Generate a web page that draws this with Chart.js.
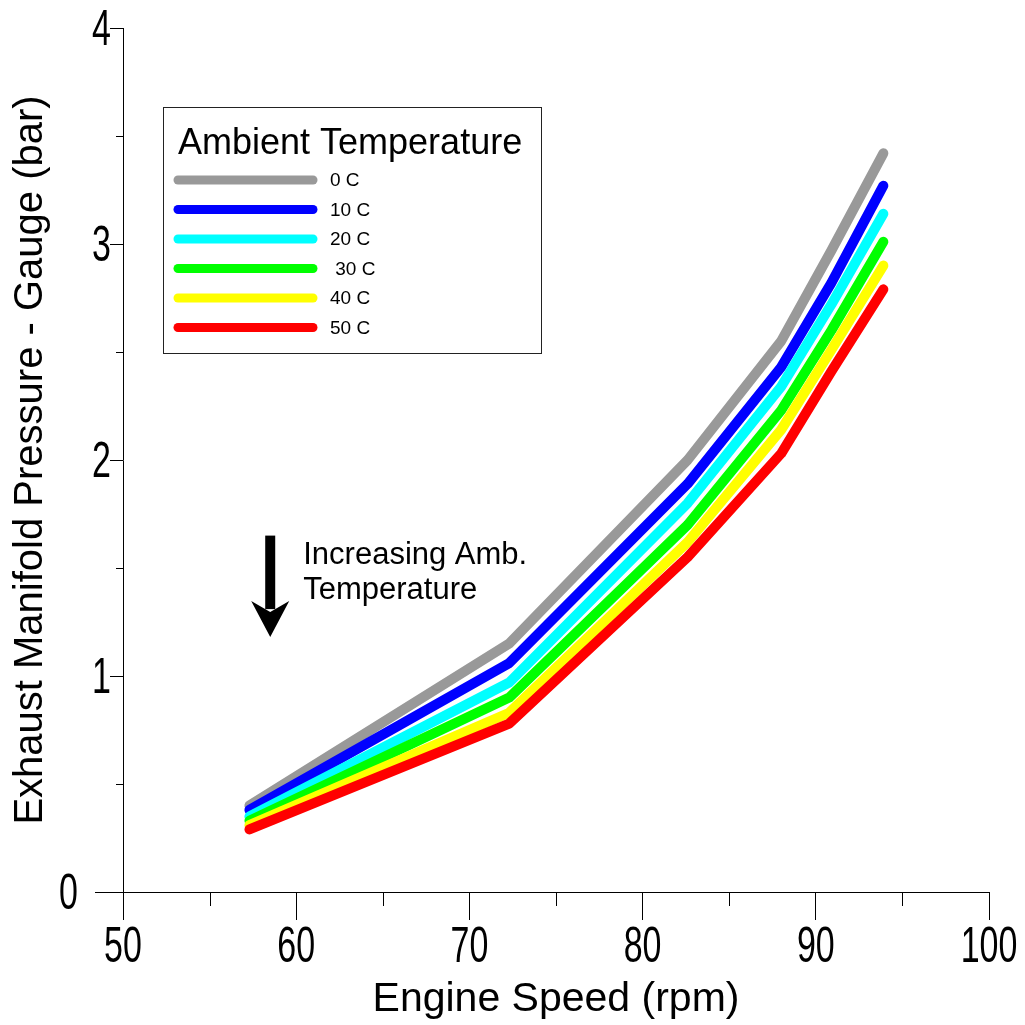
<!DOCTYPE html>
<html>
<head>
<meta charset="utf-8">
<script src="https://cdn.jsdelivr.net/npm/chart.js@4.4.1/dist/chart.umd.min.js"></script>
<style>
  html, body { margin: 0; padding: 0; background: #fff; }
  #wrap { width: 1025px; height: 1025px; }
</style>
</head>
<body>
<div id="wrap"><canvas id="pressureChart" width="1025" height="1025"></canvas></div>
<script>
// engine speed (rpm) at each measured point
const engineSpeed = [57.3, 72.3, 82.6, 88.0, 90.9, 93.9];

// exhaust manifold gauge pressure (bar), one series per ambient temperature
const temp0 = [0.40, 1.15, 2.00, 2.55, 2.97, 3.42];
const temp10 = [0.38, 1.06, 1.89, 2.43, 2.82, 3.27];
const temp20 = [0.35, 0.97, 1.80, 2.34, 2.72, 3.14];
const temp30 = [0.33, 0.90, 1.70, 2.23, 2.60, 3.01];
const temp40 = [0.31, 0.83, 1.62, 2.14, 2.51, 2.90];
const temp50 = [0.29, 0.78, 1.55, 2.03, 2.41, 2.79];

const seriesLabels = ['0 C', '10 C', '20 C', ' 30 C', '40 C', '50 C'];
const seriesValues = [temp0, temp10, temp20, temp30, temp40, temp50];
const seriesColors = ['#999999', '#0000ff', '#00ffff', '#00ff00', '#ffff00', '#ff0000'];

const xTickLabels = ['50', '60', '70', '80', '90', '100'];
const yTickLabels = ['0', '1', '2', '3', '4'];
const xTicksMinor = [55, 65, 75, 85, 95];
const yTicksMinor = [0.5, 1.5, 2.5, 3.5];

const FONT = '"Liberation Sans", Arial, sans-serif';

const datasets = seriesValues.map((vals, i) => ({
    label: seriesLabels[i],
    data: vals.map((v, j) => ({ x: engineSpeed[j], y: v })),
    borderColor: seriesColors[i],
    backgroundColor: seriesColors[i],
    borderWidth: 10,
    borderCapStyle: 'round',
    borderJoinStyle: 'round',
    pointRadius: 0,
    tension: 0,
    fill: false,
    order: seriesValues.length - i
}));

// tall tick numbers, minor ticks, legend box and the arrow note
const extrasPlugin = {
    id: 'extras',
    afterDraw(chart) {
        const ctx = chart.ctx;
        const xs = chart.scales.x;
        const ys = chart.scales.y;
        const area = chart.chartArea;
        ctx.save();
        ctx.strokeStyle = '#000';
        ctx.lineWidth = 1;

        ctx.beginPath();
        xTicksMinor.forEach(v => {
            const px = Math.round(xs.getPixelForValue(v)) + 0.5;
            ctx.moveTo(px, area.bottom);
            ctx.lineTo(px, area.bottom + 14);
        });
        yTicksMinor.forEach(v => {
            const py = Math.round(ys.getPixelForValue(v)) + 0.5;
            ctx.moveTo(area.left - 7, py);
            ctx.lineTo(area.left, py);
        });
        // x axis line runs a bit past the y axis
        const y0 = Math.round(ys.getPixelForValue(0)) + 0.5;
        ctx.moveTo(area.left - 28, y0);
        ctx.lineTo(area.left, y0);
        ctx.stroke();

        // tick numbers, stretched vertically
        ctx.fillStyle = '#000';
        ctx.font = '34px ' + FONT;
        ctx.textBaseline = 'alphabetic';
        ctx.textAlign = 'center';
        xTickLabels.forEach(t => {
            ctx.save();
            ctx.translate(xs.getPixelForValue(Number(t)), area.bottom + 70);
            ctx.scale(1, 1.45);
            ctx.fillText(t, 0, 0);
            ctx.restore();
        });
        ctx.textAlign = 'right';
        yTickLabels.forEach(t => {
            const v = Number(t);
            ctx.save();
            ctx.translate(area.left - (v === 0 ? 45 : 12), ys.getPixelForValue(v) + 17);
            ctx.scale(1, 1.45);
            ctx.fillText(t, 0, 0);
            ctx.restore();
        });

        // legend
        const bx = area.left + 40, by = area.top + 79, bw = 378, bh = 246;
        ctx.fillStyle = '#fff';
        ctx.fillRect(bx, by, bw, bh);
        ctx.strokeStyle = '#222';
        ctx.strokeRect(bx + 0.5, by + 0.5, bw, bh);
        ctx.fillStyle = '#000';
        ctx.font = '36px ' + FONT;
        ctx.textAlign = 'left';
        ctx.textBaseline = 'middle';
        ctx.fillText('Ambient Temperature', bx + 15, by + 37);
        ctx.font = '19px ' + FONT;
        chart.data.datasets.forEach((ds, i) => {
            const ry = by + 73 + i * 29.5;
            ctx.strokeStyle = ds.borderColor;
            ctx.lineWidth = 9;
            ctx.lineCap = 'round';
            ctx.beginPath();
            ctx.moveTo(bx + 15, ry);
            ctx.lineTo(bx + 150, ry);
            ctx.stroke();
            ctx.fillText(ds.label, bx + 167, ry + 1);
        });

        // arrow: increasing ambient temperature
        const ax = xs.getPixelForValue(58.5);
        const aTop = ys.getPixelForValue(1.65);
        const aTip = ys.getPixelForValue(1.18);
        ctx.fillStyle = '#000';
        ctx.fillRect(ax - 5, aTop, 10, aTip - aTop - 28);
        ctx.beginPath();
        ctx.moveTo(ax - 19, aTip - 36);
        ctx.lineTo(ax, aTip - 25);
        ctx.lineTo(ax + 19, aTip - 36);
        ctx.lineTo(ax, aTip);
        ctx.closePath();
        ctx.fill();
        ctx.font = '31px ' + FONT;
        ctx.textBaseline = 'middle';
        ctx.fillText('Increasing Amb.', ax + 33, aTop + 20);
        ctx.fillText('Temperature', ax + 33, aTop + 55);
        ctx.restore();
    }
};

new Chart(document.getElementById('pressureChart').getContext('2d'), {
    type: 'line',
    data: { datasets: datasets },
    options: {
        responsive: false,
        animation: false,
        layout: { padding: { left: 0, top: 28, right: 36, bottom: 0 } },
        plugins: {
            legend: { display: false },
            tooltip: { enabled: false }
        },
        scales: {
            x: {
                type: 'linear',
                min: 50,
                max: 100,
                afterFit(scale) { scale.height = 133; },
                border: { display: true, color: '#000', width: 1 },
                grid: { display: true, drawOnChartArea: false, drawTicks: true, tickLength: 28, color: '#000', lineWidth: 1 },
                ticks: { stepSize: 10, display: false },
                title: { display: true, text: 'Engine Speed (rpm)', color: '#000', padding: { top: 0, bottom: 1 }, font: { family: FONT, size: 41 } }
            },
            y: {
                type: 'linear',
                min: 0,
                max: 4,
                afterFit(scale) { scale.width = 123; },
                border: { display: true, color: '#000', width: 1 },
                grid: { display: true, drawOnChartArea: false, drawTicks: true, tickLength: 13, color: '#000', lineWidth: 1 },
                ticks: { stepSize: 1, display: false },
                title: { display: true, text: 'Exhaust Manifold Pressure - Gauge (bar)', color: '#000', padding: { top: 7, bottom: 0 }, font: { family: FONT, size: 40 } }
            }
        }
    },
    plugins: [extrasPlugin]
});
</script>
</body>
</html>
